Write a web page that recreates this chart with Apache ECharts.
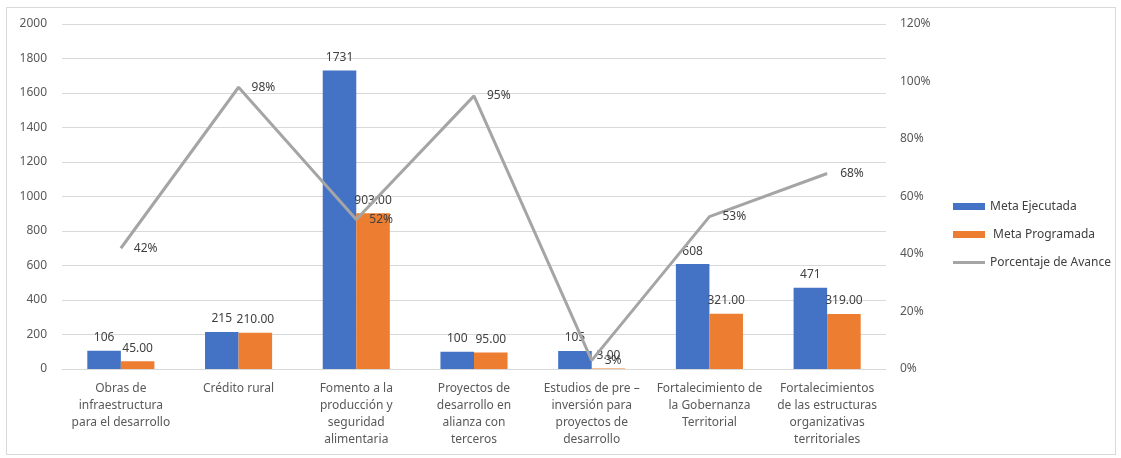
<!DOCTYPE html>
<html><head><meta charset="utf-8">
<script src="https://cdn.jsdelivr.net/npm/echarts@6/dist/echarts.min.js"></script>
<style>html,body{margin:0;padding:0;background:#fff}
#frame{position:absolute;left:6px;top:7px;width:1110px;height:448px;border:1px solid #d9d9d9;box-sizing:border-box}
#c{position:absolute;left:0;top:0;width:1121px;height:458px}</style>
</head><body><div id="frame"></div><div id="c"></div>
<script>
const categories = [
  "Obras de\ninfraestructura\npara el desarrollo",
  "Crédito rural",
  "Fomento a la\nproducción y\nseguridad\nalimentaria",
  "Proyectos de\ndesarrollo en\nalianza con\nterceros",
  "Estudios de pre –\ninversión para\nproyectos de\ndesarrollo",
  "Fortalecimiento de\nla Gobernanza\nTerritorial",
  "Fortalecimientos\nde las estructuras\norganizativas\nterritoriales"
];
const metaEjecutada = [106, 215, 1731, 100, 105, 608, 471];
const metaProgramada = [45, 210, 903, 95, 3, 321, 319];
const porcentajeAvance = [42, 98, 52, 95, 3, 53, 68];
const leftTicks = {min: 0, max: 2000, interval: 200};
const rightTicks = {min: 0, max: 120, interval: 20};

const font = "'Noto Sans', 'Open Sans', sans-serif";
const chart = echarts.init(document.getElementById('c'));
chart.setOption({
  animation: false,
  textStyle: {fontFamily: font},
  grid: {left: 62, right: 235, top: 24, bottom: 89},
  legend: {
    orient: 'vertical', left: 948, top: 193, itemGap: 11,
    itemWidth: 32, itemHeight: 7,
    textStyle: {color: '#404040', fontSize: 12, fontFamily: font, lineHeight: 17},
    data: [
      {name: 'Meta Ejecutada', icon: 'rect'},
      {name: ' Meta Programada', icon: 'rect'},
      {name: 'Porcentaje de Avance', icon: 'path://M0,0 L32,0 L32,3 L0,3 Z'}
    ]
  },
  xAxis: {
    type: 'category', data: categories,
    axisLine: {show: true, lineStyle: {color: '#d9d9d9'}},
    axisTick: {show: false},
    axisLabel: {color: '#595959', fontSize: 12, lineHeight: 17, margin: 11, interval: 0, fontFamily: font}
  },
  yAxis: [
    {type: 'value', min: leftTicks.min, max: leftTicks.max, interval: leftTicks.interval,
     axisLine: {show: false}, axisTick: {show: false},
     axisLabel: {color: '#595959', fontSize: 12, margin: 15, fontFamily: font, formatter: v => String(v)},
     splitLine: {lineStyle: {color: '#d9d9d9', width: 1}}},
    {type: 'value', min: rightTicks.min, max: rightTicks.max, interval: rightTicks.interval,
     axisLine: {show: false}, axisTick: {show: false},
     axisLabel: {color: '#595959', fontSize: 12, margin: 14, formatter: '{value}%', fontFamily: font},
     splitLine: {show: false}}
  ],
  series: [
    {name: 'Meta Ejecutada', type: 'bar', data: metaEjecutada, barWidth: '28.5%', barGap: '0%',
     itemStyle: {color: '#4472C4'},
     label: {show: true, position: 'top', distance: 7, color: '#404040', fontSize: 12, fontFamily: font}},
    {name: ' Meta Programada', type: 'bar', data: metaProgramada, barWidth: '28.5%', barGap: '0%',
     itemStyle: {color: '#ED7D31'},
     label: {show: true, position: 'top', distance: 7, color: '#404040', fontSize: 12, fontFamily: font,
       formatter: p => p.value.toFixed(2)}},
    {name: 'Porcentaje de Avance', type: 'line', yAxisIndex: 1, data: porcentajeAvance,
     symbol: 'circle', symbolSize: 0, showSymbol: true,
     lineStyle: {color: '#A5A5A5', width: 3}, itemStyle: {color: '#A5A5A5'},
     z: 5,
     label: {show: true, position: 'right', distance: 13, color: '#404040', fontSize: 12, fontFamily: font,
       formatter: '{c}%'}}
  ]
});
</script></body></html>
